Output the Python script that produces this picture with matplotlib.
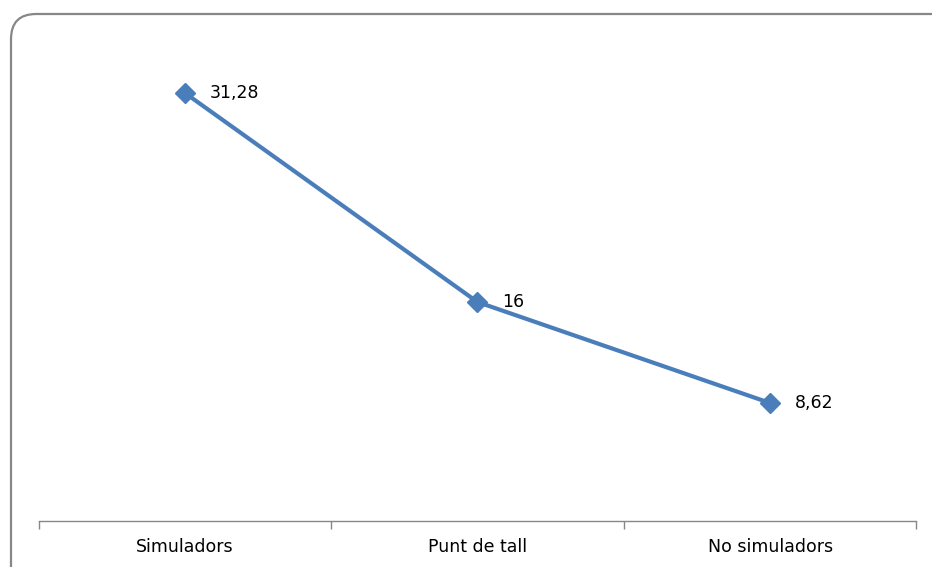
import matplotlib
matplotlib.use("Agg")
import matplotlib.pyplot as plt
from matplotlib.patches import FancyBboxPatch

categories = ["Simuladors", "Punt de tall", "No simuladors"]
values = [31.28, 16, 8.62]
value_labels = ["31,28", "16", "8,62"]

plt.rcParams["font.family"] = ["DejaVu Sans"]

W, H = 932, 567
fig = plt.figure(figsize=(W / 100, H / 100), dpi=100)

# rounded frame around the chart area (runs past the right and bottom edges)
fx0, fy_top = 11, 14
fx1 = 958
frame = FancyBboxPatch((fx0 / W, -0.2), (fx1 - fx0) / W, 1.2 - fy_top / H,
                       boxstyle="round,pad=0,rounding_size=0.027",
                       transform=fig.transFigure, fill=False,
                       edgecolor="#878787", linewidth=1.6,
                       mutation_aspect=W / H, zorder=0, clip_on=False)
fig.patches.append(frame)

ax = fig.add_axes([38.5 / W, 1 - 521 / H, (916.5 - 38.5) / W, (521 - 42) / H])
ax.set_facecolor("none")

x = list(range(len(categories)))
ax.plot(x, values, color="#4A7EBB", linewidth=3.0, marker="D",
        markersize=10.5, markerfacecolor="#4A7EBB", markeredgecolor="#4A7EBB",
        markeredgewidth=1, solid_capstyle="round", zorder=3)

for xi, v, lab in zip(x, values, value_labels):
    ax.annotate(lab, (xi, v), xytext=(18, 0), textcoords="offset points",
                va="center", ha="left", fontsize=12.5, color="black")

ax.set_xlim(-0.5, len(categories) - 0.5)
ax.set_ylim(0, 35)

ax.set_xticks(x)
ax.set_xticklabels(categories, fontsize=12.5)
ax.set_xticks([i - 0.5 for i in range(len(categories) + 1)], minor=True)
ax.tick_params(axis="x", which="major", length=0, pad=12)
ax.tick_params(axis="x", which="minor", length=6, color="#878787", width=1)
ax.set_yticks([])

for side in ["top", "right", "left"]:
    ax.spines[side].set_visible(False)
ax.spines["bottom"].set_color("#878787")
ax.spines["bottom"].set_linewidth(1)

fig.savefig("out.png", dpi=100)
